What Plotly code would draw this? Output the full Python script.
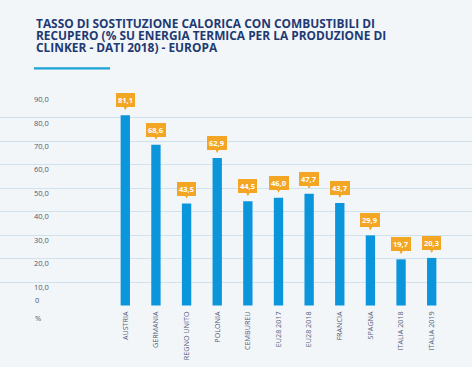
import plotly.graph_objects as go

categories = ["AUSTRIA", "GERMANIA", "REGNO UNITO", "POLONIA", "CEMBUREU",
              "EU28 2017", "EU28 2018", "FRANCIA", "SPAGNA", "ITALIA 2018", "ITALIA 2019"]
values = [81.1, 68.6, 43.5, 62.9, 44.5, 46.0, 47.7, 43.7, 29.9, 19.7, 20.3]
value_labels = ["81,1", "68,6", "43,5", "62,9", "44,5", "46,0", "47,7", "43,7", "29,9", "19,7", "20,3"]
y_tickvals = [0, 10, 20, 30, 40, 50, 60, 70, 80, 90]
y_ticktext = ["0", "10,0", "20,0", "30,0", "40,0", "50,0", "60,0", "70,0", "80,0", "90,0"]
title_lines = ["TASSO DI SOSTITUZIONE CALORICA CON COMBUSTIBILI DI",
               "RECUPERO (% SU ENERGIA TERMICA PER LA PRODUZIONE DI",
               "CLINKER - DATI 2018) - EUROPA"]
unit_label = "%"

W, H = 474, 372
ML, MR, MT, MB = 0, 2, 94, 66
PW = W - ML - MR
PH = H - MT - MB

BAR = "#0b96dc"
ORANGE = "#f3a623"
BG = "#f3f6f9"
GRID = "#cfe2ee"
NAVY = "#1f3a73"
FONT = "Open Sans"
TICKCOL = "#4e5870"

fig = go.Figure()
fig.add_trace(go.Bar(x=categories, y=values, marker_color=BAR, marker_line_width=0,
                     hoverinfo="skip"))

# value callouts
for c, v, t in zip(categories, values, value_labels):
    fig.add_annotation(x=c, y=v, xref="x", yref="y", text="<b>%s</b>" % t,
                       showarrow=True, ax=0, ay=-15, axref="pixel", ayref="pixel",
                       arrowhead=2, arrowsize=1, arrowwidth=1, arrowcolor=ORANGE,
                       standoff=5, bgcolor=ORANGE, bordercolor=ORANGE, borderwidth=0,
                       borderpad=2, font=dict(family=FONT, size=7.5, color="white"))

# title lines
for i, line in enumerate(title_lines):
    fig.add_annotation(xref="paper", yref="paper", x=34 / PW,
                       y=(H - MB - (23.3 + i * 11.7)) / PH,
                       xanchor="left", yanchor="middle", showarrow=False,
                       text="<b>%s</b>" % line,
                       font=dict(family=FONT, size=11.9, color=NAVY))

# zero tick label (inside labels at the range edge are hidden by plotly)
fig.add_annotation(xref="paper", yref="y", x=33 / PW, y=0, yshift=6,
                   xanchor="left", yanchor="middle", showarrow=False, text=y_ticktext[0],
                   font=dict(family=FONT, size=7.5, color=TICKCOL))

# unit label
fig.add_annotation(xref="paper", yref="paper", x=33 / PW, y=(H - MB - 318) / PH,
                   xanchor="left", yanchor="middle", showarrow=False, text=unit_label,
                   font=dict(family=FONT, size=7.5, color=TICKCOL))

# underline bar under title
fig.add_shape(type="line", xref="paper", yref="paper",
              x0=34 / PW, x1=110 / PW, y0=(H - MB - 68.3) / PH, y1=(H - MB - 68.3) / PH,
              line=dict(color="#1ca2d4", width=2.2))

# thin white frame at right and bottom edges, as in the card image
fig.add_shape(type="rect", xref="paper", yref="paper", x0=(W - 2) / PW, x1=1.01 * W / PW,
              y0=-1, y1=2, line_width=0, fillcolor="white", layer="below")
fig.add_shape(type="rect", xref="paper", yref="paper", x0=-1, x1=2,
              y0=-(MB) / PH, y1=-(MB - 5) / PH, line_width=0, fillcolor="white", layer="below")

px_per = 30.64
r0 = -125.3 / px_per
r1 = r0 + PW / px_per

fig.update_layout(
    width=W, height=H,
    margin=dict(l=ML, r=MR, t=MT, b=MB),
    paper_bgcolor=BG, plot_bgcolor=BG,
    showlegend=False, bargap=0.695,
    font=dict(family=FONT),
    xaxis=dict(range=[r0, r1], tickangle=-90, showgrid=False, zeroline=False,
               showline=False, ticks="", ticklabelstandoff=3,
               tickfont=dict(family=FONT, size=7.2, color="#55607a")),
    yaxis=dict(range=[-0.2, 90.2], tickvals=y_tickvals, ticktext=y_ticktext,
               showgrid=True, gridcolor=GRID, gridwidth=1.2, zeroline=False,
               showline=False, ticks="", ticklabelposition="inside",
               ticklabelstandoff=31, ticklabelshift=5,
               tickfont=dict(family=FONT, size=7.5, color=TICKCOL)),
)

fig.write_html("out.html", config={"displayModeBar": False},
               post_script="document.body.style.margin='0';document.body.style.background='%s';" % BG)
